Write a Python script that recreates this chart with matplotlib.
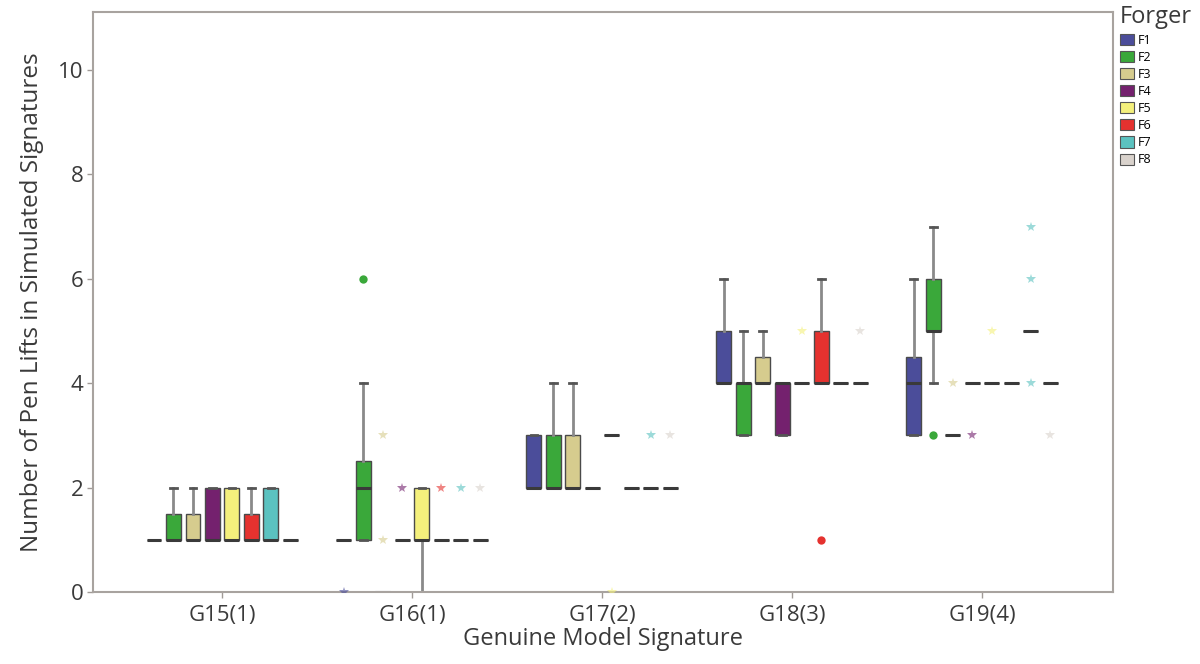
import matplotlib
matplotlib.use("Agg")
import matplotlib.pyplot as plt
from matplotlib.patches import Patch

plt.rcParams['font.family'] = ['Open Sans', 'DejaVu Sans']

groups = ['G15(1)', 'G16(1)', 'G17(2)', 'G18(3)', 'G19(4)']
forgers = ['F1', 'F2', 'F3', 'F4', 'F5', 'F6', 'F7', 'F8']
colors = ['#4b4d9a', '#3aa83a', '#d6cc8e', '#74216e',
          '#f4f07c', '#e5322f', '#5bc2c0', '#d9d2cc']

# one row per genuine signature, one value per forger
q1 = [[1, 1, 1, 1, 1, 1, 1, 1],
      [1, 1, 0, 1, 1, 1, 1, 1],
      [2, 2, 2, 2, 3, 2, 2, 2],
      [4, 3, 4, 3, 4, 4, 4, 4],
      [3, 5, 3, 4, 4, 4, 5, 4]]
med = [[1, 1, 1, 1, 1, 1, 1, 1],
       [1, 2, 0, 1, 1, 1, 1, 1],
       [2, 2, 2, 2, 3, 2, 2, 2],
       [4, 4, 4, 4, 4, 4, 4, 4],
       [4, 5, 3, 4, 4, 4, 5, 4]]
q3 = [[1, 1.5, 1.5, 2, 2, 1.5, 2, 1],
      [1, 2.5, 0, 1, 2, 1, 1, 1],
      [3, 3, 3, 2, 3, 2, 2, 2],
      [5, 4, 4.5, 4, 4, 5, 4, 4],
      [4.5, 6, 3, 4, 4, 4, 5, 4]]
whislo = [[1, 1, 1, 1, 1, 1, 1, 1],
          [1, 1, 0, 1, 0, 1, 1, 1],
          [2, 2, 2, 2, 3, 2, 2, 2],
          [4, 3, 4, 3, 4, 4, 4, 4],
          [3, 4, 3, 4, 4, 4, 5, 4]]
whishi = [[1, 2, 2, 2, 2, 2, 2, 1],
          [1, 4, 0, 1, 2, 1, 1, 1],
          [3, 4, 4, 2, 3, 2, 2, 2],
          [6, 5, 5, 4, 4, 6, 4, 4],
          [6, 7, 3, 4, 4, 4, 5, 4]]

# outliers: (group, forger, value) -- circles and stars (extremes)
outliers_circle = [(1, 1, 6), (3, 5, 1), (4, 1, 3)]
outliers_star = [(1, 0, 0), (1, 2, 1), (1, 2, 3), (1, 3, 2), (1, 5, 2),
                 (1, 6, 2), (1, 7, 2),
                 (2, 4, 0), (2, 6, 3), (2, 7, 3),
                 (3, 4, 5), (3, 7, 5),
                 (4, 2, 4), (4, 3, 3), (4, 4, 5), (4, 6, 4), (4, 6, 6),
                 (4, 6, 7), (4, 7, 3)]

step = 0.1026
box_w = 0.078


def pos(g, f):
    return g + (f - 3.5) * step


fig = plt.figure(figsize=(12, 6.64), dpi=100)
ax = fig.add_axes([0.0775, 0.1084, 0.85, 0.8736])

for g in range(len(groups)):
    for f in range(len(forgers)):
        stats = [{'q1': q1[g][f], 'med': med[g][f], 'q3': q3[g][f],
                  'whislo': whislo[g][f], 'whishi': whishi[g][f],
                  'fliers': []}]
        ax.bxp(stats, positions=[pos(g, f)], widths=box_w,
               patch_artist=True, showfliers=False, capwidths=0.035,
               boxprops=dict(facecolor=colors[f], edgecolor='#4a4a4a',
                             linewidth=1.0),
               medianprops=dict(color='#3a3a3a', linewidth=2.2),
               whiskerprops=dict(color='#8a8a8a', linewidth=2.0),
               capprops=dict(color='#555555', linewidth=2.0),
               manage_ticks=False)

for g, f, v in outliers_circle:
    ax.plot(pos(g, f), v, 'o', color=colors[f], markersize=6,
            markeredgewidth=0, zorder=4)
for g, f, v in outliers_star:
    ax.plot(pos(g, f), v, '*', color=colors[f], markersize=7,
            markeredgewidth=0, alpha=0.6, zorder=4)

ax.set_xlim(-0.68, 4.69)
ax.set_ylim(0, 11.11)
ax.set_xticks(range(len(groups)))
ax.set_xticklabels(groups)
ax.set_yticks([0, 2, 4, 6, 8, 10])
ax.tick_params(labelsize=16, labelcolor='#3a3a3a', length=4, width=1,
               color='#a09a96', pad=3)
ax.tick_params(axis='x', pad=5)
for sp in ax.spines.values():
    sp.set_color('#a8a39f')
    sp.set_linewidth(1.5)

ax.set_xlabel('Genuine Model Signature', fontsize=17, color='#3a3a3a',
              labelpad=1)
ax.set_ylabel('Number of Pen Lifts in Simulated Signatures', fontsize=17.5,
              color='#3a3a3a', labelpad=10)

handles = [Patch(facecolor=c, edgecolor='#555555', linewidth=0.8)
           for c in colors]
leg = fig.legend(handles, forgers, title='Forger', loc='upper left',
                 bbox_to_anchor=(0.926, 1.005), frameon=False,
                 fontsize=9, title_fontsize=17, handlelength=1.1,
                 handleheight=1.0, handletextpad=0.3, labelspacing=0.33,
                 alignment='left', borderaxespad=0.3)
leg.get_title().set_color('#3a3a3a')

fig.savefig('out.png', dpi=100)
